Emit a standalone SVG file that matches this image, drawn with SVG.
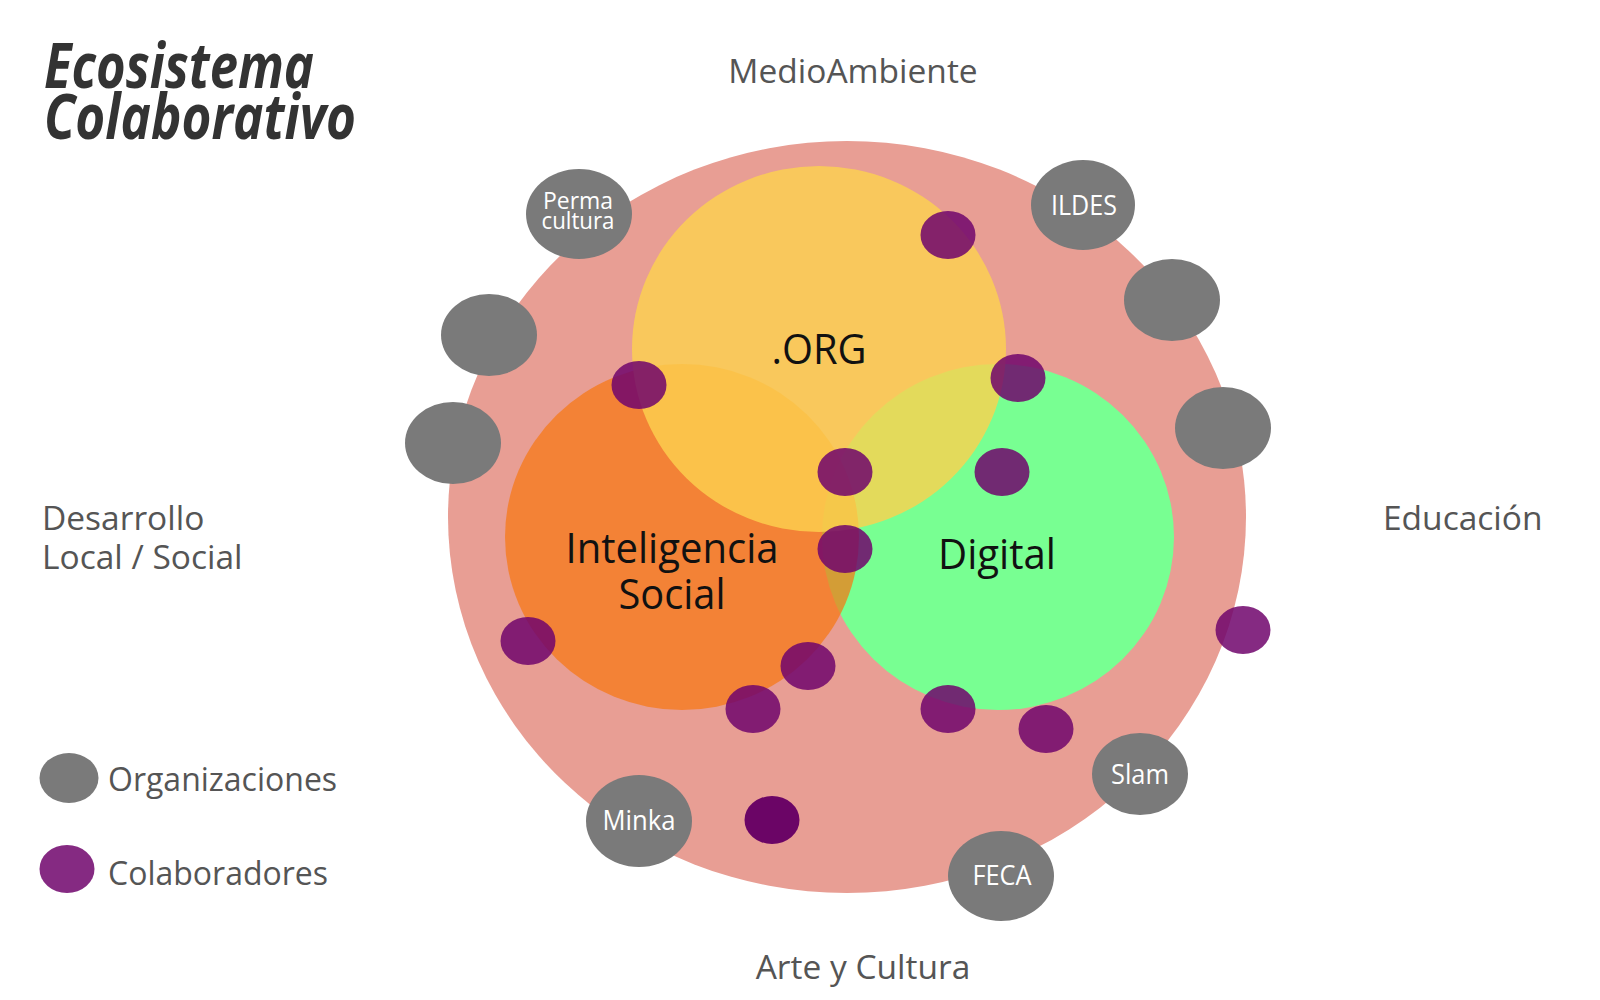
<svg xmlns="http://www.w3.org/2000/svg" width="1600" height="1000" viewBox="0 0 1600 1000">
  <style>
    text { font-family: "Open Sans", "Noto Sans", "Liberation Sans", sans-serif; }
    .title { font-size: 63px; font-weight: 700; font-style: italic; fill: #333333; }
    .area { font-size: 33.5px; fill: #555555; }
    .legend { font-size: 32px; fill: #555555; }
    .sector { font-size: 42px; fill: #111111; text-anchor: middle; }
    .org { fill: #7a7a7a; }
    .org-label { font-size: 27px; fill: #ffffff; text-anchor: middle; }
    .collab { fill: #70056c; fill-opacity: 0.85; }
    .collab-solid { fill: #6b0566; }
  </style>

  <!-- Title -->
  <g id="title">
    <text class="title" x="44" y="88" textLength="270" lengthAdjust="spacingAndGlyphs">Ecosistema</text>
    <text class="title" x="44" y="139" textLength="312" lengthAdjust="spacingAndGlyphs">Colaborativo</text>
  </g>

  <!-- Surrounding areas -->
  <g id="areas">
    <text class="area" x="853" y="83" text-anchor="middle">MedioAmbiente</text>
    <text class="area" x="42" y="530">Desarrollo</text>
    <text class="area" x="42" y="569">Local / Social</text>
    <text class="area" x="1383" y="530">Educación</text>
    <text class="area" x="863" y="979" text-anchor="middle">Arte y Cultura</text>
  </g>

  <!-- Ecosystem -->
  <g id="ecosistema">
    <ellipse cx="847" cy="517" rx="399" ry="376" fill="#e89e94"/>
  </g>
  <g id="digital">
    <ellipse cx="998" cy="537" rx="176" ry="173" fill="#78ff92"/>
    <text class="sector" x="997" y="569" textLength="118" lengthAdjust="spacingAndGlyphs">Digital</text>
  </g>
  <g id="inteligencia-social">
    <ellipse cx="682" cy="537" rx="177" ry="173" fill="#f67712" fill-opacity="0.72"/>
  </g>
  <g id="org">
    <ellipse cx="819" cy="349" rx="187" ry="183" fill="#fdd24f" fill-opacity="0.81"/>
    <text class="sector" x="819" y="364" textLength="95" lengthAdjust="spacingAndGlyphs">.ORG</text>
  </g>
  <g id="inteligencia-social-label">
    <text class="sector" x="672" y="563" textLength="213" lengthAdjust="spacingAndGlyphs">Inteligencia</text>
    <text class="sector" x="672" y="609" textLength="107" lengthAdjust="spacingAndGlyphs">Social</text>
  </g>

  <!-- Organizations -->
  <g id="org-permacultura">
    <ellipse class="org" cx="579" cy="214" rx="53" ry="45"/>
    <text class="org-label" x="578" y="209" style="font-size:24px" textLength="70" lengthAdjust="spacingAndGlyphs">Perma</text>
    <text class="org-label" x="578" y="229" style="font-size:24px" textLength="73" lengthAdjust="spacingAndGlyphs">cultura</text>
  </g>
  <g id="org-ildes">
    <ellipse class="org" cx="1083" cy="205" rx="52" ry="45"/>
    <text class="org-label" x="1084" y="215" textLength="66" lengthAdjust="spacingAndGlyphs">ILDES</text>
  </g>
  <g id="org-3">
    <ellipse class="org" cx="1172" cy="300" rx="48" ry="41"/>
  </g>
  <g id="org-4">
    <ellipse class="org" cx="1223" cy="428" rx="48" ry="41"/>
  </g>
  <g id="org-5">
    <ellipse class="org" cx="489" cy="335" rx="48" ry="41"/>
  </g>
  <g id="org-6">
    <ellipse class="org" cx="453" cy="443" rx="48" ry="41"/>
  </g>
  <g id="org-minka">
    <ellipse class="org" cx="639" cy="821" rx="53" ry="46"/>
    <text class="org-label" x="639" y="830" textLength="73" lengthAdjust="spacingAndGlyphs">Minka</text>
  </g>
  <g id="org-slam">
    <ellipse class="org" cx="1140" cy="774" rx="48" ry="41"/>
    <text class="org-label" x="1140" y="784" textLength="58" lengthAdjust="spacingAndGlyphs">Slam</text>
  </g>
  <g id="org-feca">
    <ellipse class="org" cx="1001" cy="876" rx="53" ry="45"/>
    <text class="org-label" x="1002" y="885" textLength="59" lengthAdjust="spacingAndGlyphs">FECA</text>
  </g>

  <!-- Collaborators -->
  <g id="collab-1"><ellipse class="collab" cx="948" cy="235" rx="27.5" ry="24"/></g>
  <g id="collab-2"><ellipse class="collab" cx="639" cy="385" rx="27.5" ry="24"/></g>
  <g id="collab-3"><ellipse class="collab" cx="1018" cy="378" rx="27.5" ry="24"/></g>
  <g id="collab-4"><ellipse class="collab" cx="845" cy="472" rx="27.5" ry="24"/></g>
  <g id="collab-5"><ellipse class="collab" cx="1002" cy="472" rx="27.5" ry="24"/></g>
  <g id="collab-6"><ellipse class="collab" cx="845" cy="549" rx="27.5" ry="24"/></g>
  <g id="collab-7"><ellipse class="collab" cx="528" cy="641" rx="27.5" ry="24"/></g>
  <g id="collab-8"><ellipse class="collab" cx="808" cy="666" rx="27.5" ry="24"/></g>
  <g id="collab-9"><ellipse class="collab" cx="753" cy="709" rx="27.5" ry="24"/></g>
  <g id="collab-10"><ellipse class="collab" cx="948" cy="709" rx="27.5" ry="24"/></g>
  <g id="collab-11"><ellipse class="collab" cx="1046" cy="729" rx="27.5" ry="24"/></g>
  <g id="collab-12"><ellipse class="collab" cx="1243" cy="630" rx="27.5" ry="24"/></g>
  <g id="collab-13"><ellipse class="collab-solid" cx="772" cy="820" rx="27.5" ry="24"/></g>

  <!-- Legend -->
  <g id="legend">
    <ellipse class="org" cx="69" cy="778" rx="29.5" ry="25"/>
    <text class="legend" x="108" y="791">Organizaciones</text>
    <ellipse class="collab" cx="67" cy="869" rx="27.5" ry="24"/>
    <text class="legend" x="108" y="885">Colaboradores</text>
  </g>
</svg>
